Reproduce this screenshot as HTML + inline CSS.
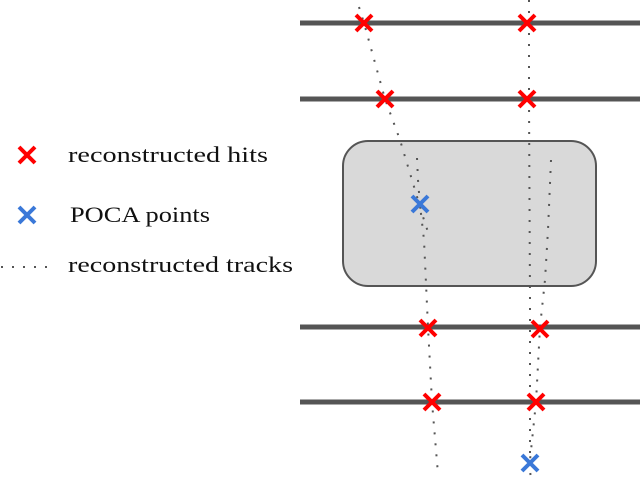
<!DOCTYPE html>
<html><head><style>
html,body{margin:0;padding:0;background:#fff;}
svg{display:block;}
text{font-family:"Liberation Serif",serif;font-size:22px;fill:#111;}
</style></head><body>
<svg width="640" height="480" viewBox="0 0 640 480">
<g stroke="#555" stroke-width="5">
<line x1="300" y1="23" x2="640" y2="23"/>
<line x1="300" y1="99" x2="640" y2="99"/>
<line x1="300" y1="327" x2="640" y2="327"/>
<line x1="300" y1="402" x2="640" y2="402"/>
</g>
<rect x="343" y="141" width="253" height="145" rx="25" fill="#d9d9d9" stroke="#555" stroke-width="2"/>
<g fill="none" stroke="#555" stroke-width="2" stroke-dasharray="2 9" stroke-linecap="butt">
<polyline points="359,7 364,23 385,99 400,140 406,160 418,200 424,220 428,232"/>
<polyline points="417,158 418,180 420,205 424,240 428,327 432,402 438,474"/>
<polyline points="529,0 529,100 530,300 530,470 531,480"/>
<polyline points="551,160 548,230 545,280 540,327 536,402 530,460"/>
</g>
<g stroke="#ff0000" stroke-width="4">
<path d="M356,15l16,16M372,15l-16,16"/>
<path d="M377,91l16,16M393,91l-16,16"/>
<path d="M519,15l16,16M535,15l-16,16"/>
<path d="M519,91l16,16M535,91l-16,16"/>
<path d="M420,320l16,16M436,320l-16,16"/>
<path d="M532,321l16,16M548,321l-16,16"/>
<path d="M424,394l16,16M440,394l-16,16"/>
<path d="M528,394l16,16M544,394l-16,16"/>
<path d="M19,147l16,16M35,147l-16,16"/>
</g>
<g stroke="#3a78d8" stroke-width="4">
<path d="M412,196l16,16M428,196l-16,16"/>
<path d="M522,455l16,16M538,455l-16,16"/>
<path d="M19,207l16,16M35,207l-16,16"/>
</g>
<line x1="1" y1="267" x2="52" y2="267" stroke="#555" stroke-width="2" stroke-dasharray="2 9"/>
<text x="68" y="162" textLength="200" lengthAdjust="spacingAndGlyphs">reconstructed hits</text>
<text x="70" y="222" textLength="140" lengthAdjust="spacingAndGlyphs">POCA points</text>
<text x="68" y="272" textLength="225" lengthAdjust="spacingAndGlyphs">reconstructed tracks</text>
</svg>
</body></html>
